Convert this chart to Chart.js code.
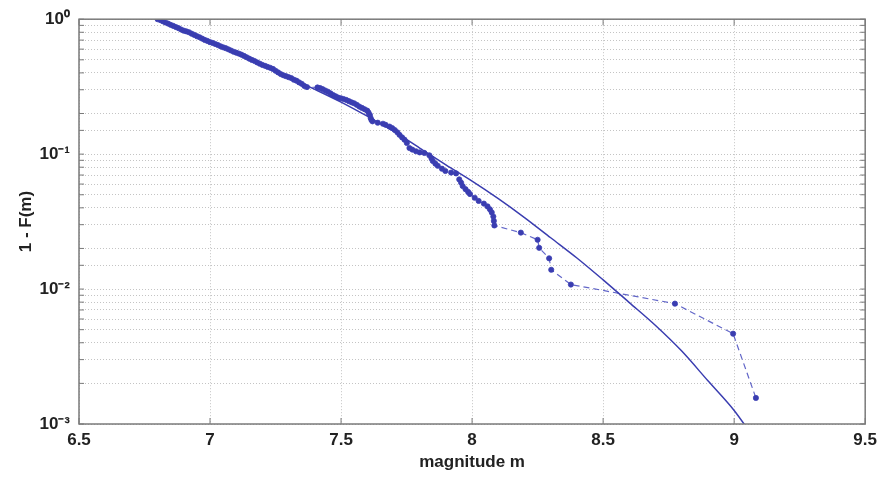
<!DOCTYPE html>
<html>
<head>
<meta charset="utf-8">
<script src="https://cdn.jsdelivr.net/npm/chart.js"></script>
<style>
  html, body { margin: 0; padding: 0; background: #fff; }
  #wrap { width: 883px; height: 477px; }
</style>
</head>
<body>
<div id="wrap"><canvas id="ccdf"></canvas></div>
<script>
const obsMag = [
  6.80, 6.81, 6.82, 6.83, 6.84, 6.85, 6.86, 6.87, 6.88, 6.89,
  6.90, 6.91, 6.92, 6.93, 6.94, 6.95, 6.96, 6.97, 6.98, 6.99,
  7.00, 7.01, 7.02, 7.03, 7.04, 7.05, 7.06, 7.07, 7.08, 7.09,
  7.10, 7.11, 7.12, 7.13, 7.14, 7.15, 7.16, 7.17, 7.18, 7.19,
  7.20, 7.21, 7.22, 7.23, 7.24, 7.25, 7.26, 7.27, 7.28, 7.29,
  7.30, 7.31, 7.32, 7.33, 7.34, 7.35, 7.36, 7.37,
  7.41, 7.42, 7.43, 7.44, 7.45, 7.46, 7.47, 7.48, 7.49, 7.50,
  7.51, 7.52, 7.53, 7.54, 7.55, 7.56, 7.57, 7.58, 7.59, 7.60,
  7.605, 7.61, 7.613, 7.616, 7.62, 7.64, 7.66, 7.67, 7.685, 7.695,
  7.705, 7.715, 7.723, 7.733, 7.742, 7.751, 7.761, 7.772, 7.786, 7.80,
  7.818, 7.837, 7.845, 7.85, 7.86, 7.869, 7.885, 7.898, 7.92, 7.939,
  7.951, 7.958, 7.964, 7.975, 7.985, 7.992, 8.01, 8.025, 8.045, 8.059,
  8.068, 8.075, 8.081, 8.083, 8.085, 8.186, 8.25, 8.256, 8.294, 8.302,
  8.377, 8.774, 8.996, 9.083
];
const obsCcdf = [
  1.000, 0.985, 0.965, 0.945, 0.928, 0.908, 0.892, 0.874, 0.858, 0.838,
  0.822, 0.812, 0.800, 0.781, 0.765, 0.748, 0.735, 0.718, 0.702, 0.690,
  0.676, 0.667, 0.655, 0.644, 0.630, 0.619, 0.610, 0.598, 0.586, 0.574,
  0.565, 0.556, 0.546, 0.534, 0.522, 0.510, 0.499, 0.490, 0.478, 0.468,
  0.458, 0.451, 0.443, 0.436, 0.428, 0.415, 0.403, 0.392, 0.384, 0.378,
  0.372, 0.366, 0.356, 0.350, 0.340, 0.332, 0.320, 0.314,
  0.312, 0.309, 0.303, 0.296, 0.290, 0.282, 0.274, 0.268, 0.262, 0.259,
  0.256, 0.252, 0.247, 0.242, 0.238, 0.232, 0.225, 0.220, 0.215, 0.210,
  0.203, 0.195, 0.185, 0.179, 0.175, 0.171, 0.168, 0.165, 0.160, 0.156,
  0.151, 0.145, 0.139, 0.133, 0.128, 0.121, 0.111, 0.108, 0.105, 0.103,
  0.102, 0.098, 0.093, 0.089, 0.085, 0.082, 0.078, 0.075, 0.073, 0.072,
  0.065, 0.0615, 0.058, 0.055, 0.0525, 0.0506, 0.0475, 0.045, 0.043, 0.041,
  0.039, 0.037, 0.0345, 0.032, 0.0296, 0.0262, 0.0232, 0.0202, 0.0169, 0.0139,
  0.0108, 0.0078, 0.00467, 0.00156
];

// fitted curve
const fitMag = [6.8, 6.9, 7.0, 7.1, 7.2, 7.3, 7.4, 7.5, 7.6, 7.7, 7.8, 7.9,
                8.0, 8.1, 8.2, 8.3, 8.4, 8.5, 8.6, 8.7, 8.8, 8.9, 9.0, 9.06];
const fitCcdf = [1.0, 0.822, 0.676, 0.556, 0.457, 0.372, 0.302, 0.243, 0.191, 0.148,
                 0.111, 0.0832, 0.0631, 0.0468, 0.0339, 0.0240, 0.0170, 0.0117,
                 0.00794, 0.00537, 0.00347, 0.00209, 0.00126, 0.00087];

const xTicks = [6.5, 7, 7.5, 8, 8.5, 9, 9.5];
const yMajor = [1, 0.1, 0.01, 0.001];
const yLabels = ['10\u2070', '10\u207B\u00B9', '10\u207B\u00B2', '10\u207B\u00B3'];

const blue = '#3a3db0';
const font = { family: 'Liberation Sans, Arial, sans-serif', size: 17, weight: 'bold' };

// matlab-like box with inward tick marks
const boxPlugin = {
  id: 'box',
  afterDatasetsDraw(chart) {
    const { ctx, chartArea: a, scales } = chart;
    ctx.save();
    ctx.strokeStyle = '#7a7a7a';
    ctx.lineWidth = 1.5;
    ctx.strokeRect(a.left, a.top, a.right - a.left, a.bottom - a.top);
    ctx.lineWidth = 1;
    ctx.beginPath();
    scales.x.ticks.forEach(t => {
      const px = scales.x.getPixelForValue(t.value);
      ctx.moveTo(px, a.bottom); ctx.lineTo(px, a.bottom - 6);
      ctx.moveTo(px, a.top); ctx.lineTo(px, a.top + 6);
    });
    scales.y.ticks.forEach(t => {
      const py = scales.y.getPixelForValue(t.value);
      ctx.moveTo(a.left, py); ctx.lineTo(a.left + 5, py);
      ctx.moveTo(a.right, py); ctx.lineTo(a.right - 5, py);
    });
    ctx.stroke();
    ctx.restore();
  }
};

new Chart(document.getElementById('ccdf'), {
  type: 'line',
  data: {
    datasets: [
      {
        label: 'fit',
        data: fitMag.map((m, i) => ({ x: m, y: fitCcdf[i] })),
        borderColor: blue,
        borderWidth: 1.5,
        pointRadius: 0,
        cubicInterpolationMode: 'monotone'
      },
      {
        label: 'observed',
        data: obsMag.map((m, i) => ({ x: m, y: obsCcdf[i] })),
        borderColor: 'rgba(70, 75, 190, 0.85)',
        borderWidth: 1.2,
        borderDash: [6, 4],
        pointRadius: 2.6,
        pointBorderWidth: 1,
        pointBackgroundColor: blue,
        pointBorderColor: 'rgba(60, 64, 180, 0.8)'
      }
    ]
  },
  options: {
    responsive: true,
    maintainAspectRatio: false,
    animation: false,
    layout: { padding: { left: 12, right: 17, top: 15, bottom: 0 } },
    plugins: { legend: { display: false }, tooltip: { enabled: false } },
    scales: {
      x: {
        type: 'linear',
        min: 6.5,
        max: 9.5,
        afterBuildTicks: s => { s.ticks = xTicks.map(v => ({ value: v })); },
        afterFit: s => { s.height = 53; },
        grid: { color: '#c4c4c4', drawTicks: false },
        border: { display: false, dash: [1, 2] },
        ticks: { color: '#222', font: font, padding: 6, maxRotation: 0, callback: v => String(v) },
        title: { display: true, text: 'magnitude m', color: '#222', font: font, padding: { top: 0 } }
      },
      y: {
        type: 'logarithmic',
        min: 0.001,
        max: 1,
        afterFit: s => { s.width = 67; },
        grid: { color: '#c4c4c4', drawTicks: false },
        border: { display: false, dash: [1, 2] },
        ticks: {
          color: '#222',
          font: font,
          padding: 9,
          autoSkip: false,
          callback: v => {
            const i = yMajor.findIndex(p => Math.abs(v - p) / p < 1e-6);
            return i >= 0 ? yLabels[i] : '';
          }
        },
        title: { display: true, text: '1 - F(m)', color: '#222', font: font, padding: { bottom: 4 } }
      }
    }
  },
  plugins: [boxPlugin]
});
</script>
</body>
</html>
